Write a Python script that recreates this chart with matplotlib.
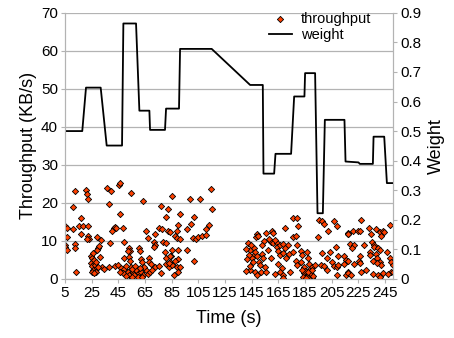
import matplotlib
matplotlib.use('Agg')
import matplotlib.pyplot as plt
import numpy as np

plt.rcParams['font.family'] = ['Liberation Sans', 'DejaVu Sans']

# weight (right axis) breakpoints
weight_t = [5, 18, 20.8, 31.8, 36.3, 47.8, 48.8, 58.3, 60.8, 68.3, 68.8, 80, 80.8, 90.5, 91.3, 115,
            143.8, 153.3, 153.8, 161.8, 162.8, 174.5, 176.8, 184.5, 185, 192.5, 194.3, 198.3, 199.8,
            214.5, 215.3, 225, 226, 235.8, 236.3, 244.3, 246.3, 251]
weight_v = [0.50, 0.50, 0.647, 0.647, 0.451, 0.451, 0.864, 0.864, 0.569, 0.569, 0.504, 0.504, 0.576,
            0.576, 0.778, 0.778, 0.656, 0.656, 0.356, 0.356, 0.423, 0.423, 0.617, 0.617, 0.696, 0.696,
            0.222, 0.222, 0.538, 0.538, 0.397, 0.394, 0.389, 0.389, 0.481, 0.481, 0.324, 0.324]

# throughput (left axis) samples
thr_t = [12.3, 21, 21.5, 22, 11, 36.5, 39.8, 37.8, 17, 5.3, 6.3, 11.3, 15.8, 18.3, 22.3, 17.3, 6.8, 22, 23,
         21.5, 29, 32.3, 41.5, 42.8, 40.3, 39, 5, 5.3, 6.3, 12.8, 12.3, 29.8, 28.8, 24.8, 25.3, 25.8, 24.8,
         26.5, 25.3, 25.8, 27.8, 28.8, 28.3, 25.3, 32.8, 37.8, 42.8, 13.3, 30.8, 31, 27, 26, 28, 30, 27, 34,
         45.3, 46.3, 54.5, 63.8, 46.3, 76.8, 82, 80.8, 43.3, 48.3, 65.8, 75.8, 77.8, 72.8, 67, 72, 72.8, 71.8,
         78.3, 80.8, 49.5, 52.8, 53.8, 52, 60.8, 61.3, 49.3, 53.3, 53.8, 62, 62.8, 68.3, 67.8, 69.3, 80.3,
         80.8, 83.8, 44.5, 47, 49.5, 52, 54.5, 56.3, 58.3, 60.3, 62, 63.3, 65.8, 67, 68.8, 72.8, 75.8, 77,
         80.8, 83.3, 53.3, 48.3, 57, 59.5, 46.3, 55, 57.5, 50.5, 64.5, 61, 70.5, 55.5, 62.5, 51,
         114.3, 85, 98.8, 106.3, 115, 91.3, 101.8, 90, 99.3, 96.8, 113.3, 110.8, 88.8, 87.5, 89.3, 91.3,
         101.3, 103.3, 105, 107.5, 110.8, 85, 90, 96.8, 84.3, 85, 88.8, 91.3, 90, 101.8, 86.8, 90, 87.8,
         82.5, 83.8, 83.8, 82.8,
         148.8, 148.3, 150, 155.8, 160, 161.3, 170, 176.3, 159.3, 161.3, 163.8, 162.5, 164.3, 166.3, 168.3,
         176.3, 172.5, 170, 143.8, 146.8, 147.5, 146.3, 148.8, 145.3, 143.3, 152.5, 153.3, 159.3, 165,
         166.3, 168.3, 170.8, 173.3, 176.3, 150.3, 151.3, 143.8, 147.5, 149.3, 151.8, 155.8, 162.5, 165,
         167.5, 166.3, 168.8, 168.3, 173.8, 142, 141, 141.5, 141, 144.5, 146, 144, 155, 157, 158, 154, 152.5,
         178.8, 179.8, 195.5, 198, 199.3, 206.8, 208.8, 202.3, 194.3, 216.8, 217.3, 178, 178.8, 181.8, 183,
         186.3, 186.8, 197.3, 201.3, 203.8, 208, 209.8, 214.3, 215.5, 178, 179.3, 181.8, 184.3, 188, 189.8,
         192.3, 196.8, 199.3, 201.3, 205.5, 206.8, 208.8, 209.8, 214.3, 216.8, 184.3, 186.8, 189.3, 190.5,
         186.8, 183.8, 188, 208.8, 215.5, 216.8, 185, 187.5, 190, 191, 185.5, 182.5,
         227, 232.8, 237.8, 240.8, 243.3, 242, 234.5, 248.3, 220.8, 224.5, 217, 225.8, 235.3, 236.3, 237,
         239.5, 240.8, 229.5, 218.3, 222, 220.3, 233.8, 233.3, 238.3, 238.8, 246.3, 225.8, 225.3, 222, 226.3,
         235.8, 240.8, 241.8, 238.8, 248.3, 249.5, 250.8, 249.5, 217, 219.5, 227, 230.8, 235.8, 239.5, 240.8,
         243.3, 247, 250.8, 244.3]
thr_v = [23.0, 23.4, 22.3, 21.1, 19.0, 24.0, 23.2, 19.6, 16.1, 13.9, 13.4, 13.2, 14.0, 14.0, 13.8, 11.8, 11.1,
         11.2, 10.6, 10.4, 10.9, 10.3, 13.4, 13.7, 12.5, 9.4, 8.9, 8.3, 7.7, 9.3, 8.2, 8.0, 7.6, 6.1, 5.5, 4.8,
         4.1, 3.9, 3.3, 2.4, 3.7, 2.8, 1.9, 1.8, 3.0, 3.2, 3.5, 1.8, 8.6, 5.7, 5.0, 6.8, 4.5, 3.0, 1.5, 2.5,
         24.7, 25.2, 22.5, 20.5, 17.0, 19.3, 18.4, 16.4, 13.3, 13.5, 12.6, 13.5, 13.1, 11.8, 10.7, 9.6, 8.8,
         8.4, 9.8, 9.4, 9.8, 8.0, 7.4, 7.2, 8.2, 7.3, 5.6, 5.8, 4.7, 5.3, 4.4, 5.6, 4.4, 3.8, 7.0, 5.6, 4.4,
         3.6, 2.9, 2.6, 1.9, 3.2, 1.9, 2.4, 1.5, 1.9, 1.0, 2.4, 1.2, 1.9, 3.0, 3.5, 1.5, 3.8, 3.2, 1.0, 1.5,
         0.9, 0.6, 1.9, 2.5, 3.3, 3.4, 3.0, 2.8, 2.2, 0.5, 0.4, 0.8,
         23.7, 21.7, 21.1, 21.1, 18.4, 17.0, 16.4, 14.2, 14.4, 13.2, 14.2, 13.1, 12.5, 11.2, 10.8, 10.6,
         10.7, 10.5, 10.9, 11.3, 11.6, 7.6, 7.6, 7.6, 5.9, 3.7, 3.2, 3.0, 1.9, 4.7, 0.9, 5.3, 4.6,
         12.5, 12.3, 6.1, 4.3,
         11.8, 10.9, 11.4, 12.0, 12.6, 12.0, 13.3, 16.0, 9.8, 9.4, 9.4, 10.3, 8.5, 8.9, 9.1, 11.1, 8.9, 8.1,
         7.6, 8.1, 7.0, 6.1, 5.9, 5.4, 6.3, 6.5, 5.4, 5.6, 7.2, 6.3, 6.8, 5.6, 6.5, 7.0, 4.4, 3.7, 2.4, 1.9,
         1.1, 1.9, 1.9, 1.2, 3.9, 2.8, 1.9, 1.1, 0.2, 1.9, 9.5, 7.9, 5.2, 2.0, 9.0, 4.5, 3.5, 3.0, 7.5, 10.5,
         10.0, 9.0,
         16.0, 14.0, 15.5, 15.1, 14.4, 15.1, 14.0, 12.6, 10.9, 11.8, 12.0, 11.4, 8.8, 7.2, 6.3, 7.0, 5.6,
         6.8, 5.4, 7.0, 8.5, 6.1, 5.9, 5.0, 4.6, 3.7, 4.4, 3.2, 3.8, 3.0, 3.7, 3.7, 3.5, 2.4, 4.4, 3.5, 3.2,
         3.7, 3.9, 4.6, 1.5, 0.9, 1.2, 0.2, 0.3, 0.6, 2.4, 1.1, 1.1, 1.9, 2.0, 1.8, 2.2, 0.8, 0.2, 2.3,
         15.4, 13.4, 13.2, 12.3, 12.6, 11.4, 11.7, 14.3, 12.5, 12.6, 11.8, 12.5, 9.8, 9.0, 8.3, 8.0, 7.7, 8.8,
         9.1, 9.0, 8.2, 7.0, 6.3, 6.5, 5.4, 7.0, 5.9, 4.7, 3.9, 4.1, 4.6, 4.4, 3.7, 4.1, 5.6, 4.4, 3.7, 1.9,
         1.5, 1.1, 1.8, 2.4, 1.2, 1.1, 0.6, 1.5, 1.2, 1.8, 12.2]

xticks = np.arange(5, 250, 20)

fig, ax = plt.subplots(figsize=(4.54, 3.38), dpi=100)
fig.subplots_adjust(left=0.143, right=0.866, top=0.962, bottom=0.175)
ax2 = ax.twinx()

sc = ax.scatter(thr_t, thr_v, marker='D', s=10, facecolor='#ff4000', edgecolor='black',
                linewidths=0.6, zorder=3, label='throughput')
ln, = ax2.plot(weight_t, weight_v, color='black', lw=1.3, label='weight')

ax.set_xlim(5, 251)
ax.set_ylim(0, 70)
ax.set_yticks(np.arange(0, 71, 10))
ax2.set_ylim(0, 0.9)
ax2.set_yticks(np.arange(0, 0.91, 0.1))
ax2.set_yticklabels(['0'] + ['%.1f' % v for v in np.arange(0.1, 0.91, 0.1)])
ax.set_xticks(xticks)
ax.grid(axis='y', color='#b3b3b3', lw=0.9)
ax.set_axisbelow(True)

for a in (ax, ax2):
    for s in a.spines.values():
        s.set_color('#b3b3b3')
    a.spines['top'].set_visible(False)
    a.tick_params(colors='#b3b3b3', labelcolor='black', labelsize=11, length=3, pad=2)

ax.set_xlabel('Time (s)', fontsize=13, labelpad=7)
ax.set_ylabel('Throughput (KB/s)', fontsize=13, labelpad=3)
ax2.set_ylabel('Weight', fontsize=13, labelpad=5)

ax.legend([sc, ln], ['throughput', 'weight'], loc='upper right', frameon=False, fontsize=10.5,
          handlelength=1.6, handletextpad=0.6, borderaxespad=0.1, labelspacing=0.15,
          bbox_to_anchor=(0.955, 1.03))

plt.savefig('out.png', dpi=100)
